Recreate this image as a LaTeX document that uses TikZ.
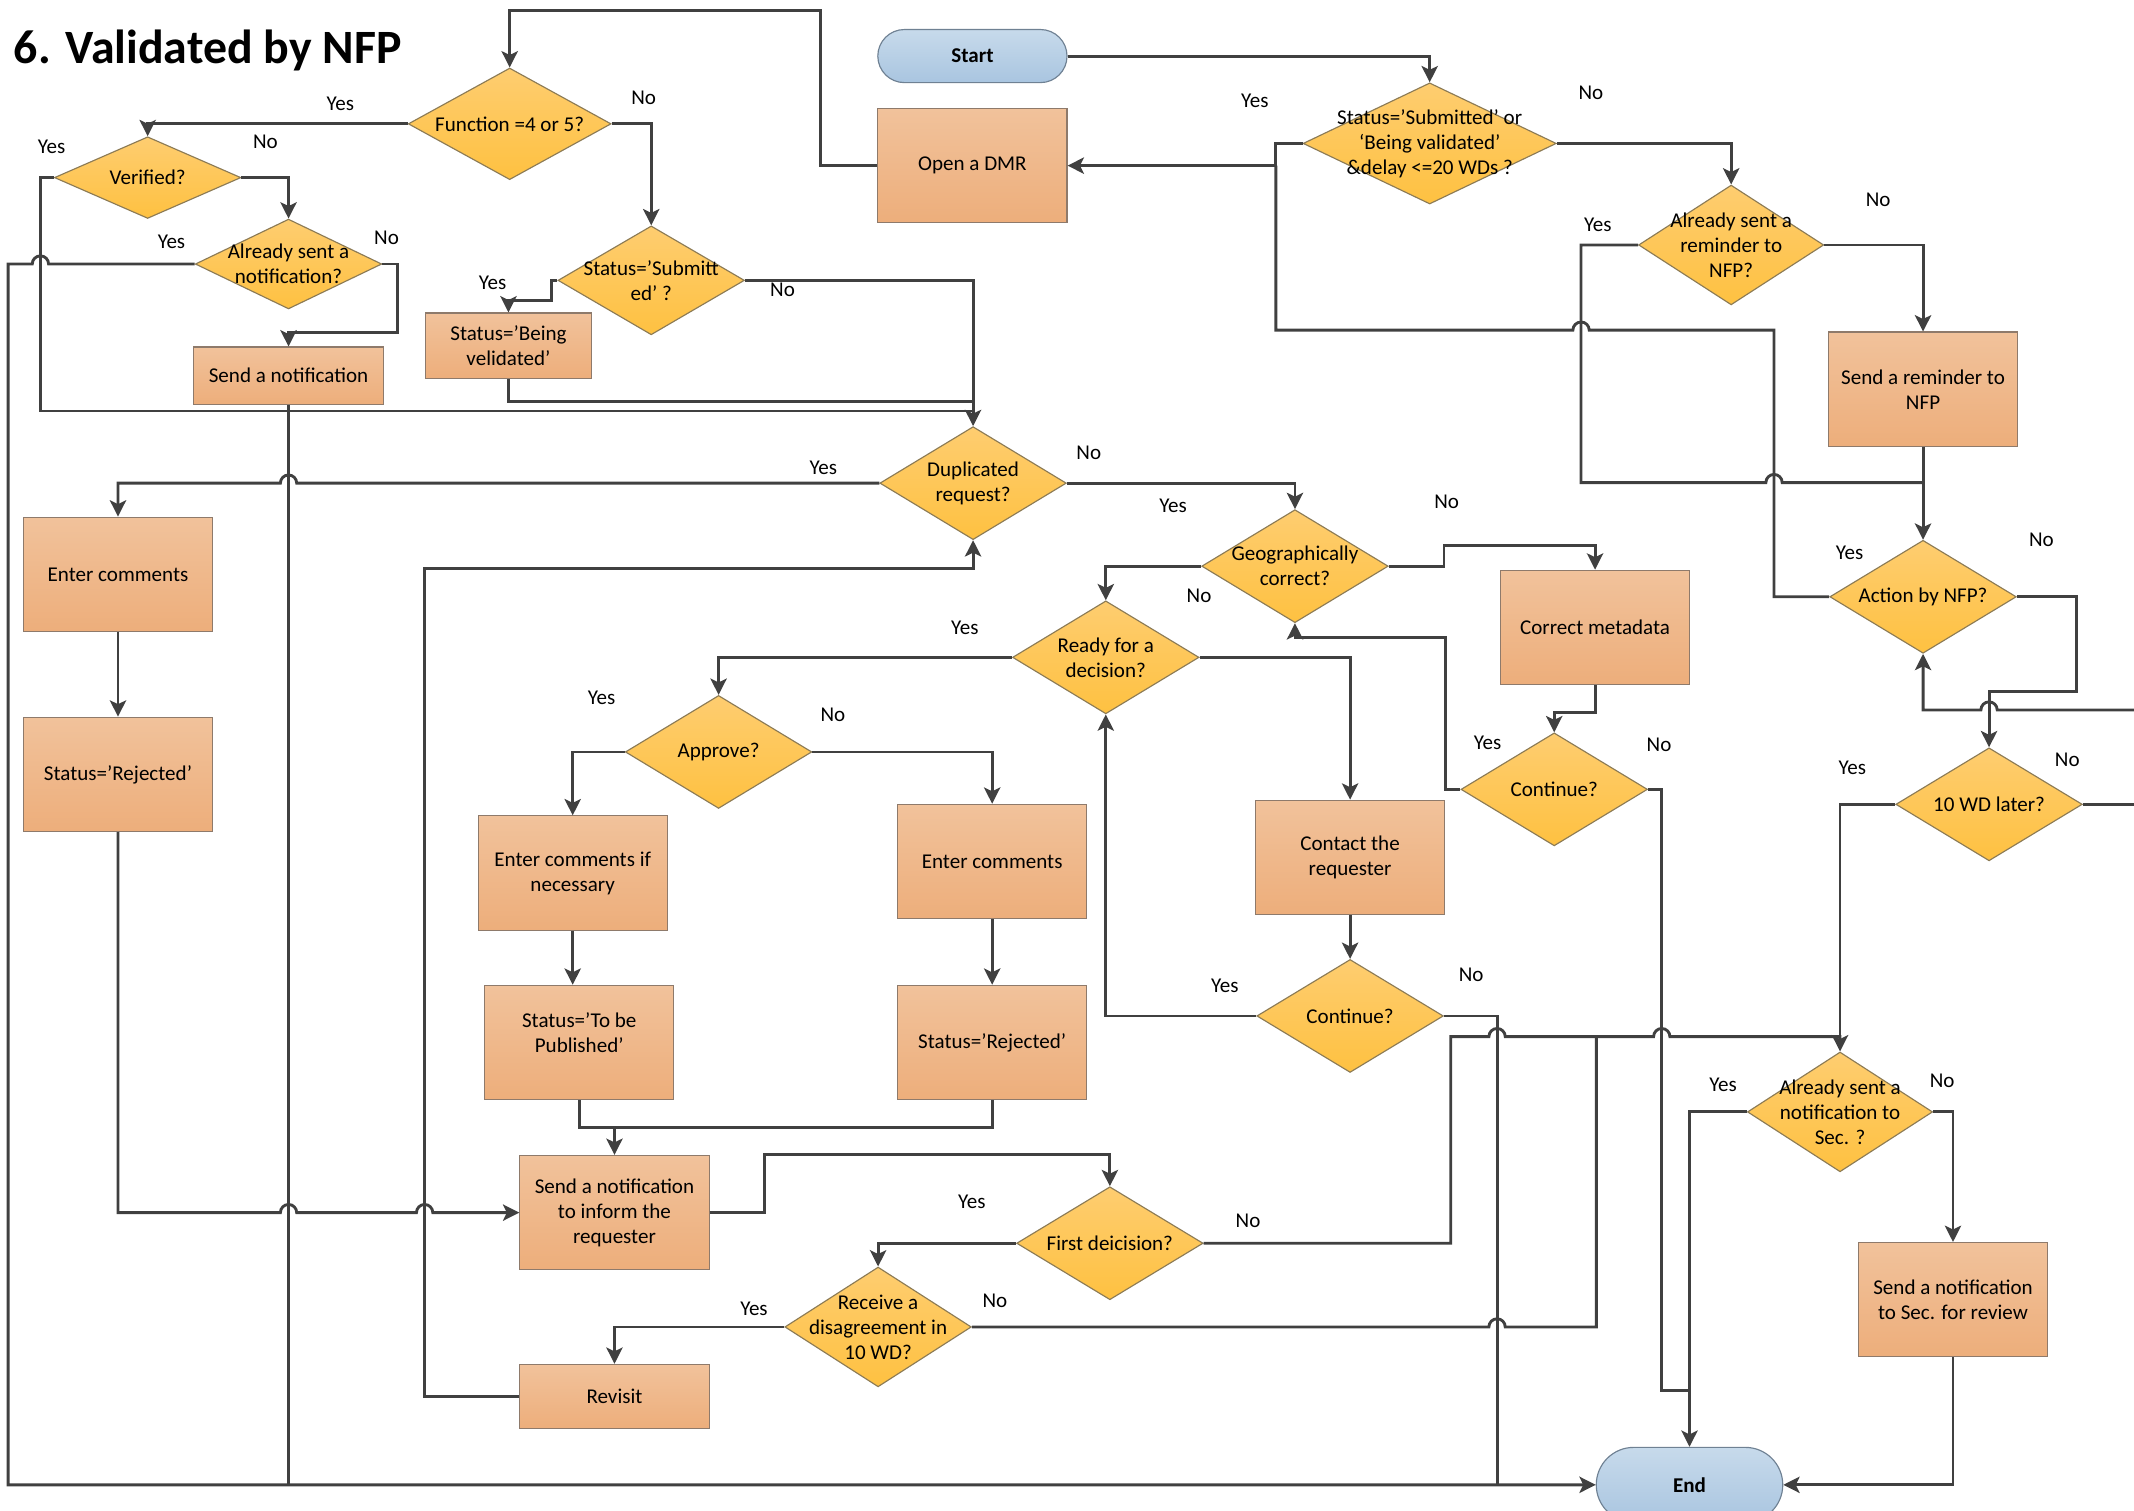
\documentclass[tikz,border=0pt]{standalone}
\usepackage{fontspec}
\setmainfont{Carlito}
\usetikzlibrary{shapes.geometric,arrows.meta}
\definecolor{proctop}{HTML}{F1C29B}
\definecolor{procbot}{HTML}{EDAE7B}
\definecolor{procline}{HTML}{8E7A6B}
\definecolor{dectop}{HTML}{FECD70}
\definecolor{decbot}{HTML}{FEC141}
\definecolor{decline}{HTML}{8C7B55}
\definecolor{termtop}{HTML}{C7DAEB}
\definecolor{termbot}{HTML}{A9C5E0}
\definecolor{termline}{HTML}{6F8193}
\definecolor{linec}{HTML}{404040}
\begin{document}
\begin{tikzpicture}[x=0.025cm,y=-0.025cm,
	every node/.style={font=\fontsize{11}{13.1}\selectfont},
	proc/.style={rectangle,draw=procline,line width=0.6pt,top color=proctop,bottom color=procbot,
		minimum width=3.475cm,minimum height=2.1cm,align=center,inner sep=1pt},
	dec/.style={diamond,draw=decline,line width=0.6pt,top color=dectop,bottom color=decbot,
		minimum width=3.425cm,minimum height=2.075cm,align=center,inner xsep=-80pt,inner ysep=-40pt},
	term/.style={rectangle,rounded corners=0.4875cm,draw=termline,line width=0.6pt,top color=termtop,bottom color=termbot,
		minimum width=3.475cm,minimum height=0.975cm,font=\fontsize{11}{13.1}\selectfont\bfseries},
	lbl/.style={inner sep=0pt},
	ln/.style={draw=linec,line width=1.5pt},
	arr/.style={ln,-{Stealth[length=8.5pt,width=8.5pt,inset=2pt]}},
	jl/.style 2 args={insert path={-- (#1+6,#2) arc[start angle=0,end angle=180,radius=0.15cm]}},
	jr/.style 2 args={insert path={-- (#1-6,#2) arc[start angle=180,end angle=0,radius=0.15cm]}}]
\useasboundingbox (0,0) rectangle (1568,1110);
\clip (0,0) rectangle (1568,1110);
\node[anchor=west,inner sep=0pt,font=\fontsize{25}{30}\selectfont\bfseries] (title) at (10,37) {6. Validated by NFP};
\node[term] (start) at (714.5,41.2) {Start};
\node[proc] (dmr) at (714.5,121.7) {Open a DMR};
\node[dec,minimum width=3.725cm,minimum height=2.05cm] (func) at (374.5,91) {Function =4 or 5?};
\node[dec,minimum height=1.5cm] (verif) at (108.5,130.5) {Verified?};
\node[dec,minimum height=1.65cm] (asn) at (212,194) {Already sent a\\notification?};
\node[proc,minimum height=1.05cm] (sendn) at (212,276) {Send a notification};
\node[proc,minimum width=3.05cm,minimum height=1.2cm] (being) at (373.6,254) {Status=’Being\\velidated’};
\node[dec,minimum height=2cm] (ssub) at (478.5,206) {Status=’Submitt\\ed’ ?};
\node[dec,minimum width=4.65cm,minimum height=2.225cm] (swd) at (1050.5,105.4) {Status=’Submitted’ or\\‘Being validated’\\\&delay <=20 WDs ?};
\node[dec,minimum width=3.4cm,minimum height=2.2cm] (asr) at (1272,180) {Already sent a\\reminder to\\NFP?};
\node[proc] (sendr) at (1413,286) {Send a reminder to\\NFP};
\node[dec] (dup) at (715,355) {Duplicated\\request?};
\node[proc] (ec1) at (86.7,422) {Enter comments};
\node[proc] (sr1) at (86.7,569) {Status=’Rejected’};
\node[dec] (geo) at (951.5,416) {Geographically\\correct?};
\node[proc] (corr) at (1172,461) {Correct metadata};
\node[dec] (ready) at (812.5,483) {Ready for a\\decision?};
\node[dec] (approve) at (528,552.5) {Approve?};
\node[dec] (cont) at (1142,580) {Continue?};
\node[dec] (action) at (1413,438.5) {Action by NFP?};
\node[dec] (wd) at (1461.5,591) {10 WD later?};
\node[proc] (ecn) at (420.8,641.5) {Enter comments if\\necessary};
\node[proc] (ec2) at (729,633) {Enter comments};
\node[proc] (contact) at (992,630) {Contact the\\requester};
\node[dec] (cont2) at (992,746.5) {Continue?};
\node[proc] (sbp) at (425.6,766) {\raisebox{0.65cm}{\begin{tabular}{@{}c@{}}Status=’To be\\Published’\end{tabular}}};
\node[proc] (sr2) at (729,766) {Status=’Rejected’};
\node[proc] (sni) at (451.5,891) {Send a notification\\to inform the\\requester};
\node[dec] (first) at (815.5,913.5) {First deicision?};
\node[dec,minimum height=2.2cm] (recv) at (645.2,975) {Receive a\\disagreement in\\10 WD?};
\node[proc,minimum height=1.175cm] (revisit) at (451.5,1026) {Revisit};
\node[dec,minimum width=3.4cm,minimum height=2.2cm] (asns) at (1352,817) {Already sent a\\notification to\\Sec. ?};
\node[proc] (sns) at (1435,955) {Send a notification\\to Sec. for review};
\node[term,rounded corners=0.6875cm,minimum width=3.425cm,minimum height=1.375cm] (endn) at (1241.4,1091) {End};
\node[lbl] (yfunc) at (250,76) {Yes};
\node[lbl] (nfunc) at (473,72) {No};
\node[lbl] (yver) at (38,108) {Yes};
\node[lbl] (nver) at (195,104) {No};
\node[lbl] (yasn) at (126,178) {Yes};
\node[lbl] (nasn) at (284,175) {No};
\node[lbl] (yssub) at (362,208) {Yes};
\node[lbl] (nssub) at (575,213) {No};
\node[lbl] (yswd) at (922,74) {Yes};
\node[lbl] (nswd) at (1169,68) {No};
\node[lbl] (yasr) at (1174,165) {Yes};
\node[lbl] (nasr) at (1380,147) {No};
\node[lbl] (ydup) at (605,344) {Yes};
\node[lbl] (ndup) at (800,333) {No};
\node[lbl] (ygeo) at (862,372) {Yes};
\node[lbl] (ngeo) at (1063,369) {No};
\node[lbl] (nrdy) at (881,438) {No};
\node[lbl] (yrdy) at (709,461) {Yes};
\node[lbl] (yapp) at (442,513) {Yes};
\node[lbl] (napp) at (612,525) {No};
\node[lbl] (ycont) at (1093,546) {Yes};
\node[lbl] (ncont) at (1219,547) {No};
\node[lbl] (yact) at (1359,406) {Yes};
\node[lbl] (nact) at (1500,397) {No};
\node[lbl] (ywd) at (1361,564) {Yes};
\node[lbl] (nwd) at (1519,558) {No};
\node[lbl] (ycont2) at (900,724) {Yes};
\node[lbl] (ncont2) at (1081,716) {No};
\node[lbl] (yfirst) at (714,883) {Yes};
\node[lbl] (nfirst) at (917,897) {No};
\node[lbl] (yrecv) at (554,962) {Yes};
\node[lbl] (nrecv) at (731,956) {No};
\node[lbl] (yasns) at (1266,797) {Yes};
\node[lbl] (nasns) at (1427,794) {No};
\coordinate (offa) at (1580,521.7);
\coordinate (offb) at (1580,591);
\draw[arr] (start.east) -| (swd.north);
\draw[arr] (dmr.west) -- (603,121.7) -- (603,7.4) -| (func.north);
\draw[arr] (func.west) -| (verif.north);
\draw[arr] (func.east) -| (ssub.north);
\draw[arr] (verif.east) -| (asn.north);
\draw[ln] (verif.west) -- (29.7,130.5) -- (29.7,302) -- (715,302);
\draw[arr] (asn.east) -- (292,194) -- (292,244.6) -| (sendn.north);
\draw[arr] (asn.west) [jl={29.7}{194}] -- (6,194) -- (6,1091) -- (endn.west);
\draw[ln] (sendn.south) -- (212,1091);
\draw[arr] (ssub.west) -- (405,206) -- (405,221) -| (being.north);
\draw[ln] (being.south) -- (373.6,294.8) -- (715,294.8);
\draw[arr] (ssub.east) -| (dup.north);
\draw[arr] (swd.west) -- (937.5,105.4) -- (937.5,121.7) -- (dmr.east);
\draw[arr] (swd.east) -| (asr.north);
\draw[arr] (asr.east) -| (sendr.north);
\draw[ln] (asr.west) -- (1161.7,180) -- (1161.7,354.6) [jr={1303.5}{354.6}] -- (1413,354.6);
\draw[arr] (sendr.south) -- (action.north);
\draw[ln] (action.west) -- (1303.5,438.5) -- (1303.5,242.6) [jl={1161.7}{242.6}] -- (937.5,242.6) -- (937.5,121.7);
\draw[arr] (action.east) -- (1525.8,438.5) -- (1525.8,508) -| (wd.north);
\draw[arr] (offa) [jl={1461.5}{521.7}] -- (1413,521.7) -- (action.south);
\draw[ln] (wd.east) -- (offb);
\draw[ln] (wd.west) -| (1352,761.7);
\draw[arr] (first.east) -- (1066,913.5) -- (1066,761.7) [jr={1100}{761.7},jr={1221}{761.7}] -- (1352,761.7) -- (asns.north);
\draw[ln] (recv.east) [jr={1100}{975}] -- (1173,975) -- (1173,761.7);
\draw[ln] (cont2.east) -- (1100,746.5) -- (1100,1091);
\draw[arr] (cont2.west) -| (ready.south);
\draw[arr] (contact.south) -- (cont2.north);
\draw[arr] (ready.east) -| (contact.north);
\draw[arr] (dup.east) -| (geo.north);
\draw[arr] (geo.west) -| (ready.north);
\draw[arr] (geo.east) -- (1061,416) -- (1061,400.5) -| (corr.north);
\draw[arr] (corr.south) -- (1172,523.3) -| (cont.north);
\draw[arr] (cont.west) -- (1062,580) -- (1062,468.4) -| (geo.south);
\draw[ln] (cont.east) -- (1221,580) -- (1221,1021.5) -- (1241.4,1021.5);
\draw[arr] (asns.west) -| (endn.north);
\draw[arr] (asns.east) -| (sns.north);
\draw[arr] (sns.south) |- (endn.east);
\draw[arr] (ready.west) -| (approve.north);
\draw[arr] (approve.east) -| (ec2.north);
\draw[arr] (approve.west) -| (ecn.north);
\draw[arr] (ecn.south) -- (ecn.south |- sbp.north);
\draw[arr] (ec2.south) -- (sr2.north);
\draw[arr] (sbp.south) -- (425.6,828.6) -| (sni.north);
\draw[ln] (sr2.south) -- (729,828.6) -- (451.5,828.6);
\draw[arr] (dup.west) [jl={212}{355}] -- (86.7,355) -- (ec1.north);
\draw[arr] (ec1.south) -- (sr1.north);
\draw[arr] (sr1.south) -- (86.7,891) [jr={212}{891},jr={312}{891}] -- (sni.west);
\draw[arr] (sni.east) -- (561.6,891) -- (561.6,848) -| (first.north);
\draw[arr] (first.west) -| (recv.north);
\draw[arr] (recv.west) -| (revisit.north);
\draw[arr] (revisit.west) -- (312,1026) -- (312,417.6) -| (dup.south);
\end{tikzpicture}
\end{document}
